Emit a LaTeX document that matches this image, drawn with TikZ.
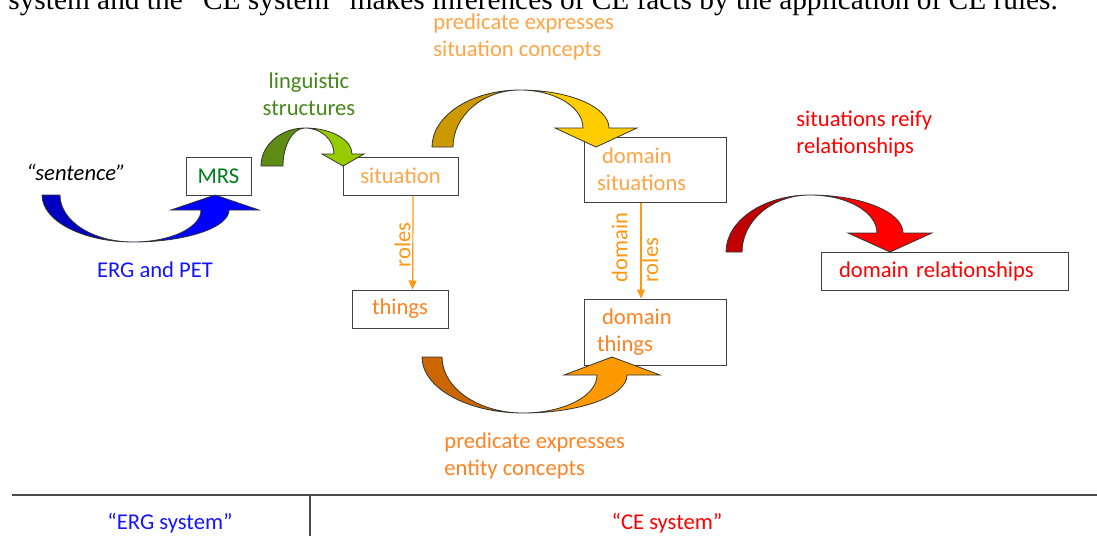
\documentclass[tikz,border=0pt]{standalone}
\usepackage{fontspec}
\setmainfont{Carlito}
\newfontfamily\bodyserif{Liberation Serif}
\usetikzlibrary{arrows.meta}

\definecolor{ergblue}{RGB}{20,20,255}
\definecolor{cered}{RGB}{255,0,0}
\definecolor{mrsgreen}{RGB}{0,125,30}
\definecolor{linggreen}{RGB}{70,135,25}
\definecolor{sitorange}{RGB}{255,165,70}
\definecolor{entorange}{RGB}{255,130,35}
\definecolor{roleorange}{RGB}{255,150,20}
% fills of the curved arrows
\definecolor{ergL}{RGB}{0,0,190}
\definecolor{ergR}{RGB}{0,0,255}
\definecolor{lingL}{RGB}{95,140,20}
\definecolor{lingR}{RGB}{153,204,0}
\definecolor{sitL}{RGB}{204,153,0}
\definecolor{sitR}{RGB}{255,204,0}
\definecolor{entL}{RGB}{204,102,0}
\definecolor{entR}{RGB}{255,153,0}
\definecolor{relL}{RGB}{192,0,0}
\definecolor{relR}{RGB}{255,0,0}

\begin{document}
\begin{tikzpicture}[x=0.5pt,y=-0.5pt]
	\tikzstyle{box} = [draw=black!75, line width=0.5pt, fill=white, inner sep=0pt, minimum height=19pt, font=\fontsize{11.3}{13.3}\selectfont]
	\tikzstyle{lbl} = [inner sep=0pt, font=\fontsize{11.3}{13.3}\selectfont, align=left]
	\tikzstyle{roleedge} = [draw=roleorange, line width=0.6pt, -{Triangle[width=4pt,length=4.5pt]}]
	\tikzstyle{blockarrow} = [draw=black!80, line width=0.4pt]
	\tikzstyle{rule} = [draw=black!70, line width=0.8pt]

\clip (0,0) rectangle (1097,536);

% caption line, cut by the top edge
\node[anchor=base west, inner sep=0pt, font=\bodyserif\fontsize{14.67}{16}\selectfont] (caption) at (8,9) {system and the “CE system” makes inferences of CE facts by the application of CE rules.};

% one line boxes
\foreach \name/\x/\y/\w/\txt/\col in {mrs/218.5/176/32.5/MRS/mrsgreen, sit/400.5/176/57.5/situation/sitorange, things/400/309/48/things/entorange}
	\node[box, minimum width=\w pt, text=\col] (\name) at (\x,\y) {\txt};
\node[box, minimum width=123.5pt, text width=105.5pt, align=left, text=cered] (drel) at (944.5,271) {domain relationships};

% two line boxes
\node[box, minimum width=71pt, minimum height=32.5pt, text width=58pt, align=left, text=sitorange] (dsit) at (655,169.5) {\hspace{2.5pt}domain\\situations};
\node[box, minimum width=71pt, minimum height=33pt, text width=58pt, align=left, text=entorange] (dthings) at (655,332) {\hspace{2.5pt}domain\\things};

% roles
\draw[roleedge] ([xshift=6.3pt]sit.south) -- ([xshift=6.3pt]things.north);
\draw[roleedge] ([xshift=-7pt]dsit.south) -- ([xshift=-7pt]dthings.north);
\node[lbl, rotate=90, anchor=south, text=roleorange] (roles) at (411,245) {roles};
\node[lbl, rotate=90, anchor=south west, text=roleorange] (droles1) at (628,283) {domain};
\node[lbl, rotate=90, anchor=north west, text=roleorange] (droles2) at (642,283) {roles};

% labels
\node[lbl, anchor=base] (sentence) at (76,180) {\itshape “sentence”};
\node[lbl, anchor=base, text=ergblue] (ergpet) at (155,277) {ERG and PET};
\node[lbl, align=center, text=linggreen] (ling) at (309,94) {linguistic\\structures};
\node[lbl, anchor=west, text=sitorange] (sitconc) at (433,37) {predicate expresses\\situation concepts};
\node[lbl, anchor=west, text=cered] (reify) at (796,134) {situations reify\\relationships};
\node[lbl, anchor=west, text=entorange] (entconc) at (444,456) {predicate expresses\\entity concepts};

% system table
\coordinate (ruleL) at (12,495);
\coordinate (ruleR) at (1097,495);
\coordinate (ruleM) at (310,495);
\coordinate (ruleB) at (310,536);
\draw[rule] (ruleL) -- (ruleR);
\draw[rule] (ruleM) -- (ruleB);
\node[lbl, anchor=base, text=ergblue] (ergsys) at (170,529) {“ERG system”};
\node[lbl, anchor=base, text=cered] (cesys) at (667,529) {“CE system”};

% curved block arrows: tail x/width/y, turn point, tip, head length/half width, shaft half width, fills
\foreach \tx/\tw/\ty/\mx/\my/\hx/\hy/\hl/\hw/\sw/\fa/\fb in {
	42/18/195/133/242/215/195/-15/44/14/ergL/ergR,
	261/22/166/305/128/343/166/12/21/9/lingL/lingR,
	432/21/147/520/90/596/147/19/41/13/sitL/sitR,
	422/20/357/523/413/612/357/-18/48/15/entL/entR,
	726/16/252/810/195/890/252/19/42/13/relL/relR}
{
	\pgfmathsetmacro{\hb}{\hy-(\hl)}
	\pgfmathsetmacro{\tr}{\tx+\tw}
	\pgfmathsetmacro{\cA}{\ty+0.552*(\my-\ty)}
	\pgfmathsetmacro{\cB}{\mx-0.552*(\mx-\tx)}
	\pgfmathsetmacro{\cC}{\mx-0.552*(\mx-\tr)}
	\pgfmathsetmacro{\xo}{\hx+\sw}
	\pgfmathsetmacro{\xn}{\hx-\sw}
	\pgfmathsetmacro{\xl}{\hx-\hw}
	\pgfmathsetmacro{\xr}{\hx+\hw}
	\pgfmathsetmacro{\cD}{\hb+0.552*(\my-\hb)}
	\pgfmathsetmacro{\cE}{\mx+0.552*(\xo-\mx)}
	\pgfmathsetmacro{\cF}{\mx+0.552*(\xn-\mx)}
	\filldraw[blockarrow, fill=\fa] (\tx,\ty) .. controls (\tx,\cA) and (\cB,\my) .. (\mx,\my) .. controls (\cC,\my) and (\tr,\cA) .. (\tr,\ty) -- cycle;
	\filldraw[blockarrow, fill=\fb] (\mx,\my) .. controls (\cE,\my) and (\xo,\cD) .. (\xo,\hb) -- (\xr,\hb) -- (\hx,\hy) -- (\xl,\hb) -- (\xn,\hb) .. controls (\xn,\cD) and (\cF,\my) .. (\mx,\my) -- cycle;
}
\end{tikzpicture}
\end{document}
